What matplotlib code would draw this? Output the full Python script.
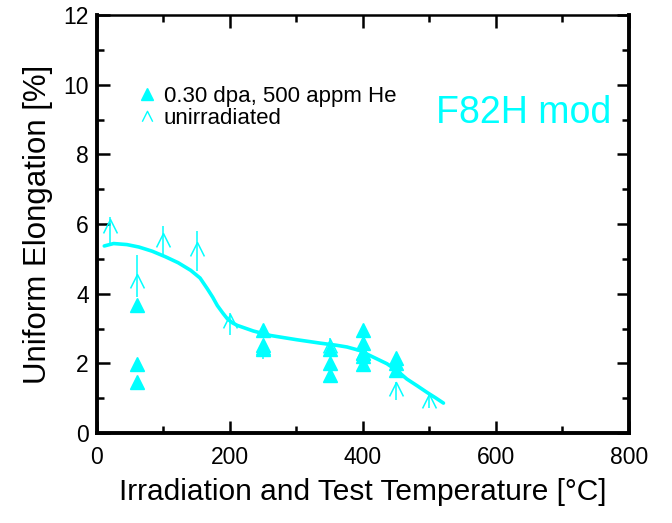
import numpy as np
import matplotlib
matplotlib.use("Agg")
import matplotlib.pyplot as plt
from matplotlib.path import Path
from matplotlib.lines import Line2D
from matplotlib.ticker import MultipleLocator

plt.rcParams['font.family'] = ['Liberation Sans', 'DejaVu Sans']

# Irradiated: 0.30 dpa, 500 appm He
irr_temp = [60, 60, 60, 250, 250, 250, 350, 350, 350, 400, 400, 400, 400, 400, 450, 450, 450]
irr_ue = [3.68, 1.99, 1.47, 2.96, 2.53, 2.40, 2.40, 2.00, 1.67, 2.97, 2.58, 2.30, 2.20, 1.97, 2.15, 2.02, 1.80]

# Unirradiated (value with spread)
unirr_temp = [20, 60, 100, 150, 200, 250, 350, 400, 450, 500]
unirr_ue = [5.95, 4.37, 5.55, 5.29, 3.22, 2.45, 2.50, 2.30, 1.26, 0.92]
unirr_lo = [0.55, 0.46, 0.44, 0.65, 0.40, 0.33, 0.20, 0.20, 0.31, 0.20]
unirr_hi = [0.25, 0.74, 0.40, 0.52, 0.23, 0.15, 0.23, 0.20, 0.21, 0.17]

# Trend curve
fit_temp = [11, 25, 45, 63, 83, 103, 122, 141, 155, 166, 174, 181, 189, 196, 204, 211,
            235, 261, 300, 336, 360, 376, 395, 411, 436, 452, 466, 482, 496, 510, 521]
fit_ue = [5.37, 5.44, 5.41, 5.34, 5.22, 5.06, 4.89, 4.67, 4.45, 4.14, 3.90, 3.66, 3.45,
          3.28, 3.16, 3.09, 2.93, 2.80, 2.68, 2.58, 2.52, 2.47, 2.37, 2.22, 1.99, 1.78,
          1.55, 1.35, 1.17, 1.00, 0.86]

cyan = '#00FFFF'
chevron = Path([(-1, -1), (0, 1), (1, -1)], [Path.MOVETO, Path.LINETO, Path.LINETO])

fig = plt.figure(figsize=(6.72, 5.23), dpi=100)
ax = fig.add_axes([0.1443, 0.172, 0.7917, 0.7993])

ax.plot(fit_temp, fit_ue, color=cyan, lw=2.6, zorder=2, solid_capstyle='round')
ax.errorbar(unirr_temp, unirr_ue, yerr=[unirr_lo, unirr_hi], fmt='none',
            ecolor=cyan, elinewidth=1.1, capsize=0, zorder=3)
ax.plot(unirr_temp, unirr_ue, linestyle='none', marker=chevron, ms=10,
        mfc='none', mec=cyan, mew=1.1, zorder=3)
ax.plot(irr_temp, irr_ue, linestyle='none', marker='^', ms=10,
        color=cyan, mec=cyan, zorder=4)

ax.text(510, 8.9, 'F82H mod', color=cyan, fontsize=27, ha='left', va='baseline')

handles = [Line2D([], [], linestyle='none', marker='^', ms=8, color=cyan),
           Line2D([], [], linestyle='none', marker=chevron, ms=7.5, mfc='none',
                  mec=cyan, mew=1.0)]
ax.legend(handles, ['0.30 dpa, 500 appm He', 'unirradiated'], loc='upper left',
          bbox_to_anchor=(0.052, 0.857), frameon=False, fontsize=16,
          handlelength=1.0, handletextpad=0.25, labelspacing=0.05, borderpad=0)

ax.set_xlim(0, 800)
ax.set_ylim(0, 12)
ax.xaxis.set_major_locator(MultipleLocator(200))
ax.xaxis.set_minor_locator(MultipleLocator(100))
ax.yaxis.set_major_locator(MultipleLocator(2))
ax.yaxis.set_minor_locator(MultipleLocator(1))
ax.tick_params(which='both', direction='in', top=True, right=True, width=1.8, labelsize=16.5)
ax.tick_params(which='major', length=9)
ax.tick_params(which='minor', length=5)
ax.tick_params(axis='x', pad=9)
ax.tick_params(axis='y', pad=6)
for side in ax.spines.values():
    side.set_linewidth(2.8)
ax.spines['top'].set_linewidth(1.8)

ax.set_xlabel('Irradiation and Test Temperature [°C]', fontsize=21.5, labelpad=7)
ax.set_ylabel('Uniform Elongation [%]', fontsize=22.5, labelpad=7)

fig.savefig('out.png', dpi=100)
